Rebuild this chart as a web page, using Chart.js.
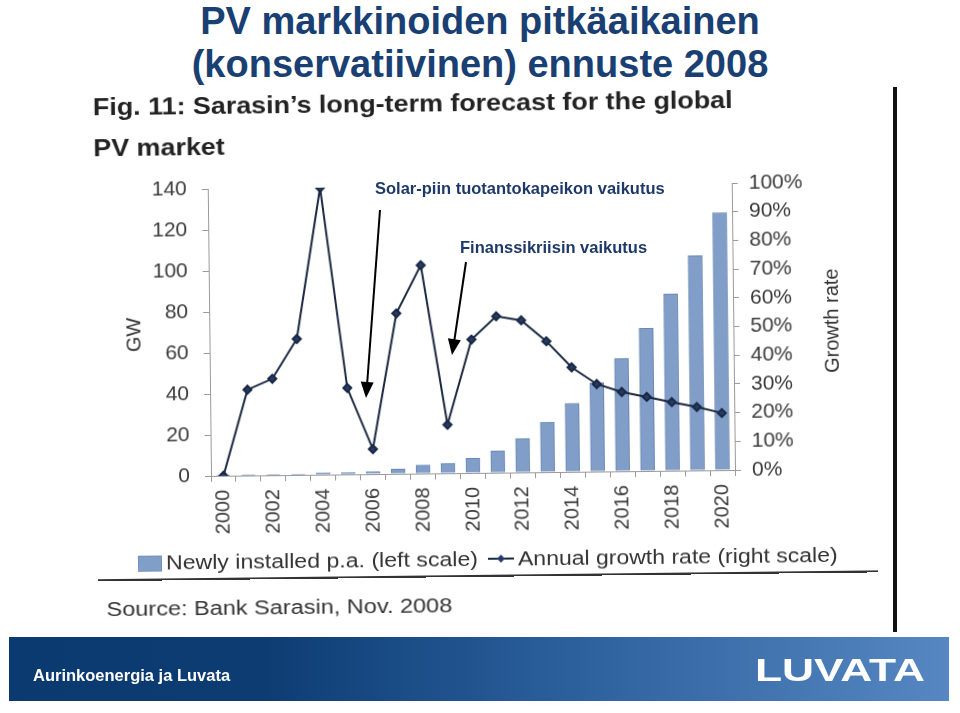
<!DOCTYPE html>
<html lang="fi">
<head>
<meta charset="UTF-8">
<title>PV markkinoiden pitkäaikainen ennuste 2008</title>
<script src="https://cdn.jsdelivr.net/npm/chart.js"></script>
<style>
  body { margin:0; width:960px; height:713px; background:#fff; overflow:hidden; position:relative;
         font-family:"Liberation Sans", Arial, sans-serif; }
  .abs { position:absolute; white-space:nowrap; }
  h1 { position:absolute; left:0; top:0; width:960px; margin:0; text-align:center;
       font-size:38px; line-height:43px; color:#1a3f73; font-weight:bold; }
  #scan { position:absolute; left:0; top:0; width:960px; height:713px;
          transform-origin:470px 473px; transform:rotate(-0.65deg); }
  #scan canvas { position:absolute; left:0; top:0; }
  .fig { font-size:24px; line-height:24px; font-weight:bold; color:#222;
         transform:scaleX(1.12); transform-origin:left; }
  .scan-txt { font-size:20px; line-height:20px; color:#333; }
  .wide { transform-origin:left; }
  .note { font-size:16.5px; line-height:16px; font-weight:bold; color:#1f3a68; }
  #footer { position:absolute; left:9px; top:637px; width:940px; height:64px;
            background:linear-gradient(to right, #0a3a70 0%, #0c3c72 27%, #2a5e9b 58%, #5687c2 100%); }
</style>
</head>
<body>

<h1>PV markkinoiden pitkäaikainen<br>(konservatiivinen) ennuste 2008</h1>

<div id="scan">
  <canvas id="pvChart" width="960" height="713"></canvas>
  <div class="abs fig" style="left:97px; top:91px;">Fig. 11: Sarasin’s long-term forecast for the global</div>
  <div class="abs fig" style="left:97px; top:132px;">PV market</div>
  <div class="abs scan-txt" style="left:118px; top:321px; transform:rotate(-90deg); transform-origin:center;">GW</div>
  <div class="abs scan-txt" style="left:783px; top:317px; width:100px; text-align:center; transform:rotate(-90deg); transform-origin:center;">Growth rate</div>

  <div class="abs" style="left:137px; top:552px; width:22px; height:14px; background:#819ec8; border:1px solid #7390bb;"></div>
  <div class="abs scan-txt wide" style="left:165px; top:549px; transform:scaleX(1.155);">Newly installed p.a. (left scale)</div>
  <svg class="abs" style="left:486px; top:552px;" width="28" height="14">
    <line x1="1" y1="7" x2="27" y2="7" stroke="#1a2740" stroke-width="2"/>
    <polygon points="14,3 18,7 14,11 10,7" fill="#243c6c"/>
  </svg>
  <div class="abs scan-txt wide" style="left:517px; top:549px; transform:scaleX(1.15);">Annual growth rate (right scale)</div>
  <div class="abs" style="left:97px; top:575px; width:780px; height:2px; background:#333;"></div>
  <div class="abs scan-txt wide" style="left:105px; top:595px; transform:scaleX(1.175);">Source: Bank Sarasin, Nov. 2008</div>
</div>

<div class="abs" style="left:893px; top:87px; width:4px; height:545px; background:#111;"></div>

<div class="abs note" style="left:375px; top:180px;">Solar-piin tuotantokapeikon vaikutus</div>
<div class="abs note" style="left:460px; top:239px;">Finanssikriisin vaikutus</div>
<svg class="abs" style="left:0; top:0;" width="960" height="713">
  <line x1="380" y1="210" x2="367.2" y2="383" stroke="#000" stroke-width="2"/>
  <polygon points="366,398 373.7,382.5 360.7,381.5" fill="#000"/>
  <line x1="466" y1="262" x2="454.4" y2="340" stroke="#000" stroke-width="2"/>
  <polygon points="452,355 460.8,340.2 447.9,338.2" fill="#000"/>
</svg>

<div id="footer"></div>
<div class="abs" style="left:33px; top:667px; font-size:16.5px; line-height:16px; font-weight:bold; color:#fff;">Aurinkoenergia ja Luvata</div>
<div class="abs" style="left:755px; top:655px; font-size:31px; line-height:31px; font-weight:bold; color:#fff; transform:scaleX(1.43); transform-origin:left;">LUVATA</div>

<script>
  const years = ['2000', '2001', '2002', '2003', '2004', '2005', '2006', '2007', '2008', '2009', '2010',
                 '2011', '2012', '2013', '2014', '2015', '2016', '2017', '2018', '2019', '2020'];
  // GW, left scale
  const newlyInstalled = [0.2, 0.3, 0.3, 0.5, 0.8, 0.8, 1.2, 2.3, 4.1, 4.9, 7.2,
                          10.6, 16.6, 24.3, 33.4, 43.3, 55.1, 69.6, 86.2, 104.7, 125.6];
  // %, right scale
  const growthRate = [0, 29.9, 33.6, 47.4, 100, 30.1, 8.7, 55.9, 72.6, 16.9, 46.5,
                      54.5, 53, 45.6, 36.4, 30.5, 27.6, 25.8, 23.9, 22.1, 19.9];

  Chart.defaults.font.family = '"Liberation Sans", Arial, sans-serif';
  Chart.defaults.color = '#3a3a3a';

  const axisGrid = { drawOnChartArea: false, tickLength: 6, color: '#9a9a9a' };
  const axisBorder = { color: '#9a9a9a' };

  new Chart(document.getElementById('pvChart').getContext('2d'), {
    type: 'bar',
    data: {
      labels: years,
      datasets: [{
        type: 'line',
        label: 'Annual growth rate (right scale)',
        data: growthRate,
        yAxisID: 'y1',
        borderColor: '#1a2740',
        borderWidth: 2,
        pointStyle: 'rectRot',
        pointRadius: 4,
        pointBackgroundColor: '#243c6c',
        pointBorderColor: '#1a2740',
        tension: 0,
        order: 0
      }, {
        label: 'Newly installed p.a. (left scale)',
        data: newlyInstalled,
        yAxisID: 'y',
        backgroundColor: '#819ec8',
        borderColor: '#6a88b5',
        borderWidth: 1,
        barThickness: 14,
        order: 1
      }]
    },
    options: {
      responsive: false,
      animation: false,
      layout: { padding: { top: 186, left: 0, right: 0, bottom: 0 } },
      plugins: { legend: { display: false }, tooltip: { enabled: false } },
      scales: {
        x: {
          grid: { ...axisGrid, offset: true },
          border: axisBorder,
          ticks: {
            autoSkip: false, maxRotation: 90, minRotation: 90, padding: 8,
            font: { size: 20 },
            callback: (v, i) => (i % 2 === 0 ? years[i] : '')
          },
          afterFit: s => { s.height = 240; }
        },
        y: {
          position: 'left', min: 0, max: 140,
          grid: axisGrid, border: axisBorder,
          ticks: { stepSize: 20, padding: 15, font: { size: 21 } },
          afterFit: s => { s.width = 211; }
        },
        y1: {
          position: 'right', min: 0, max: 100,
          grid: axisGrid, border: axisBorder,
          ticks: { stepSize: 10, padding: 11, font: { size: 21 }, callback: v => v + '%' },
          afterFit: s => { s.width = 225; }
        }
      }
    }
  });
</script>
</body>
</html>
